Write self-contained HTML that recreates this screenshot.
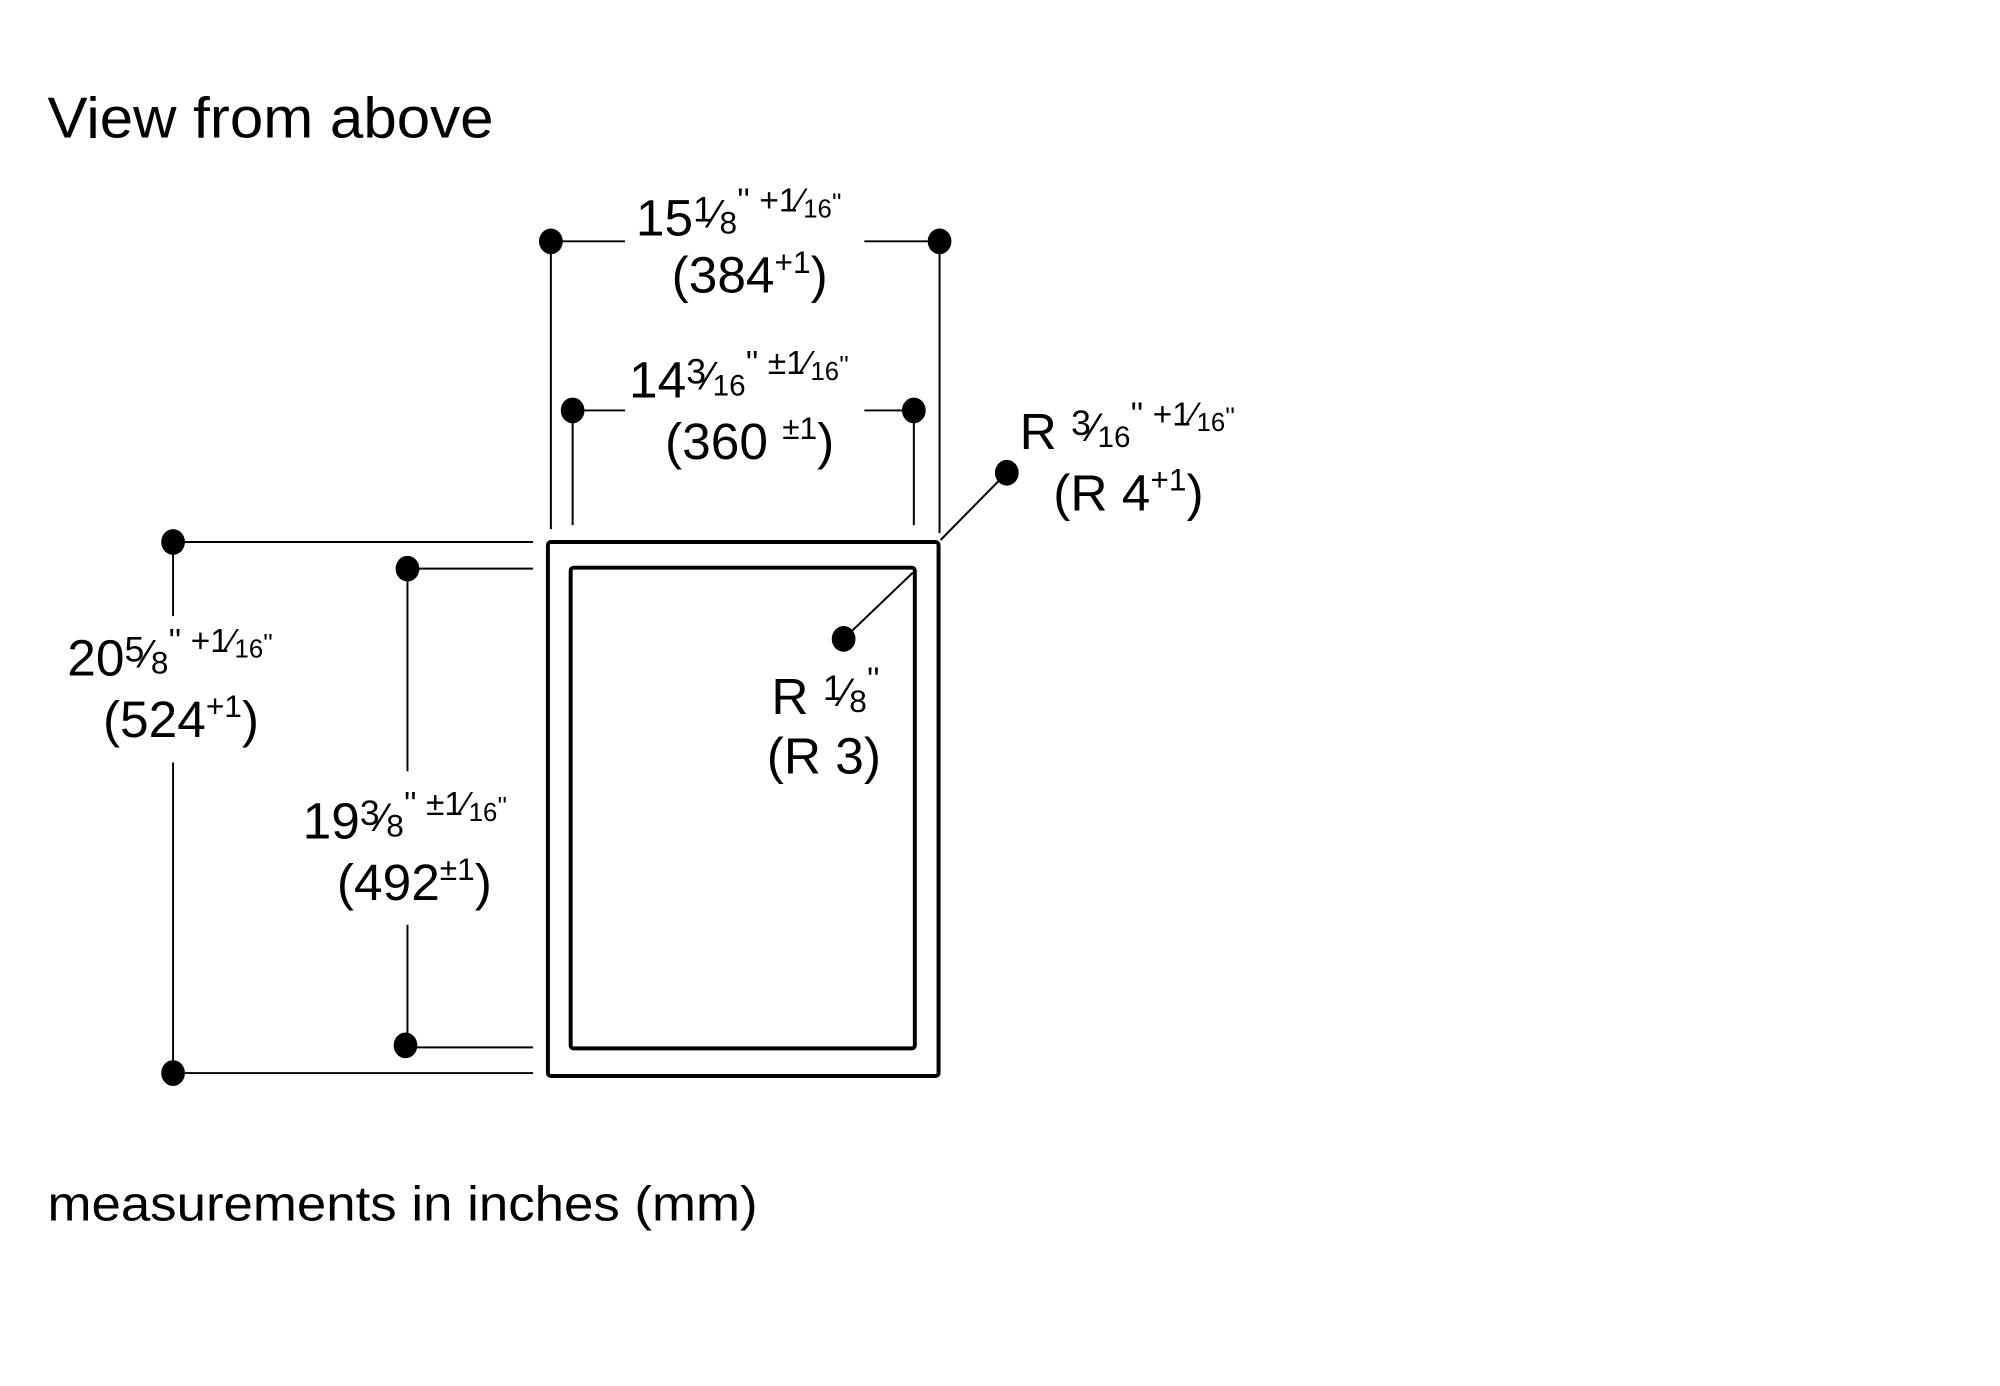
<!DOCTYPE html>
<html><head><meta charset="utf-8"><style>
html,body{margin:0;padding:0;background:#fff;}
svg{display:block;}
text{font-family:"Liberation Sans Narrow","Liberation Sans",sans-serif;fill:#000;}
</style></head><body>
<svg width="2000" height="1386" viewBox="0 0 2000 1386" xmlns="http://www.w3.org/2000/svg">
<g transform="scale(0.989)">
<g stroke="#000" stroke-width="2" fill="none">
<line x1="557" y1="244" x2="632" y2="244"/>
<line x1="874" y1="244" x2="950" y2="244"/>
<line x1="557" y1="244" x2="557" y2="535"/>
<line x1="950" y1="244" x2="950" y2="539"/>
<line x1="579" y1="415" x2="632" y2="415"/>
<line x1="874" y1="415" x2="924" y2="415"/>
<line x1="579" y1="415" x2="579" y2="531"/>
<line x1="924" y1="415" x2="924" y2="531"/>
<line x1="175" y1="548" x2="539" y2="548"/>
<line x1="175" y1="1085" x2="539" y2="1085"/>
<line x1="175" y1="548" x2="175" y2="623"/>
<line x1="175" y1="771" x2="175" y2="1085"/>
<line x1="412" y1="575" x2="539" y2="575"/>
<line x1="410" y1="1059" x2="539" y2="1059"/>
<line x1="412" y1="575" x2="412" y2="780"/>
<line x1="412" y1="935" x2="412" y2="1059"/>
<line x1="1018" y1="478" x2="951" y2="546"/>
<line x1="853" y1="646" x2="923" y2="579"/>
</g>
<rect x="554" y="548" width="395" height="540" rx="3" fill="none" stroke="#000" stroke-width="4"/>
<rect x="577" y="574" width="348" height="486" rx="3" fill="none" stroke="#000" stroke-width="4"/>
<g fill="#000">
<ellipse cx="557" cy="244" rx="12" ry="13"/>
<ellipse cx="950" cy="244" rx="12" ry="13"/>
<ellipse cx="579" cy="415" rx="12" ry="13"/>
<ellipse cx="924" cy="415" rx="12" ry="13"/>
<ellipse cx="1018" cy="478" rx="12" ry="13"/>
<ellipse cx="853" cy="646" rx="12" ry="13"/>
<ellipse cx="175" cy="548" rx="12" ry="13"/>
<ellipse cx="175" cy="1085" rx="12" ry="13"/>
<ellipse cx="412" cy="575" rx="12" ry="13"/>
<ellipse cx="410" cy="1057" rx="12" ry="13"/>
</g>
<text x="48" y="139" font-size="58" textLength="451" lengthAdjust="spacingAndGlyphs" style="font-family:'Liberation Sans',sans-serif">View from above</text>
<text x="48" y="1234" font-size="50" textLength="718" lengthAdjust="spacingAndGlyphs" style="font-family:'Liberation Sans',sans-serif">measurements in inches (mm)</text>

<text x="643" y="238" font-size="52">15<tspan font-size="36" dy="-14">1</tspan><tspan font-size="40" dy="6">⁄</tspan><tspan font-size="32" dy="6">8</tspan><tspan font-size="34" dy="-22">'' +1⁄</tspan><tspan font-size="26" dy="6">16</tspan><tspan font-size="26" dy="-6">''</tspan></text>
<text x="758" y="296" font-size="52" text-anchor="middle">(384<tspan font-size="32" dy="-20">+1</tspan><tspan dy="20">)</tspan></text>

<text x="636" y="402" font-size="52">14<tspan font-size="36" dy="-14">3</tspan><tspan font-size="40" dy="6">⁄</tspan><tspan font-size="30" dy="6">16</tspan><tspan font-size="34" dy="-22">'' ±1⁄</tspan><tspan font-size="26" dy="6">16</tspan><tspan font-size="26" dy="-6">''</tspan></text>
<text x="758" y="464" font-size="52" text-anchor="middle">(360 <tspan font-size="32" dy="-20">±1</tspan><tspan dy="20">)</tspan></text>

<text x="1031" y="454" font-size="52">R <tspan font-size="36" dy="-14">3</tspan><tspan font-size="40" dy="6">⁄</tspan><tspan font-size="30" dy="6">16</tspan><tspan font-size="34" dy="-22">'' +1⁄</tspan><tspan font-size="26" dy="6">16</tspan><tspan font-size="26" dy="-6">''</tspan></text>
<text x="1065" y="516" font-size="52">(R 4<tspan font-size="32" dy="-20">+1</tspan><tspan dy="20">)</tspan></text>

<text x="68" y="683" font-size="52">20<tspan font-size="36" dy="-14">5</tspan><tspan font-size="40" dy="6">⁄</tspan><tspan font-size="32" dy="6">8</tspan><tspan font-size="34" dy="-22">'' +1⁄</tspan><tspan font-size="26" dy="6">16</tspan><tspan font-size="26" dy="-6">''</tspan></text>
<text x="183" y="745" font-size="52" text-anchor="middle">(524<tspan font-size="32" dy="-20">+1</tspan><tspan dy="20">)</tspan></text>

<text x="306" y="848" font-size="52">19<tspan font-size="36" dy="-14">3</tspan><tspan font-size="40" dy="6">⁄</tspan><tspan font-size="32" dy="6">8</tspan><tspan font-size="34" dy="-22">'' ±1⁄</tspan><tspan font-size="26" dy="6">16</tspan><tspan font-size="26" dy="-6">''</tspan></text>
<text x="419" y="910" font-size="52" text-anchor="middle">(492<tspan font-size="32" dy="-20">±1</tspan><tspan dy="20">)</tspan></text>

<text x="780" y="722" font-size="52">R <tspan font-size="36" dy="-14">1</tspan><tspan font-size="40" dy="6">⁄</tspan><tspan font-size="32" dy="6">8</tspan><tspan font-size="34" dy="-22">''</tspan></text>
<text x="833" y="782" font-size="52" text-anchor="middle">(R 3)</text>
</g>
</svg>
</body></html>
